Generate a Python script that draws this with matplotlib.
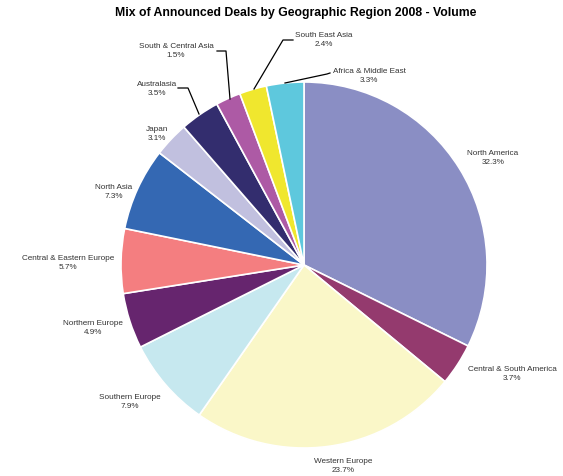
import matplotlib.pyplot as plt

plt.rcParams['font.family'] = ['Liberation Sans', 'DejaVu Sans']

# données
regions = ["North America", "Central & South America", "Western Europe",
           "Southern Europe", "Northern Europe", "Central & Eastern Europe",
           "North Asia", "Japan", "Australasia", "South & Central Asia",
           "South East Asia", "Africa & Middle East"]
# pourcentages affichés
pct_labels = ["32.3%", "3.7%", "23.7%", "7.9%", "4.9%", "5.7%",
              "7.3%", "3.1%", "3.5%", "1.5%", "2.4%", "3.3%"]
# taille des parts (la part S&C Asia est dessinée plus grande)
share = [32.3, 3.7, 23.7, 7.9, 4.9, 5.7, 7.3, 3.1, 3.5, 2.2, 2.4, 3.3]
colors = ["#8a8ec4", "#943a6e", "#faf7c8", "#c6e8ef", "#66256e", "#f47e80",
          "#3468b3", "#c1c0df", "#332d6e", "#ad5aa5", "#f0e72e", "#5ec8dd"]

# mise en page (pixels de l'image de référence)
W, H = 563, 477
cx, cy, R = 304, 266, 183
label_px = [(493, 158), (512, 374), (343, 466), (130, 402), (93, 328),
            (68, 263), (114, 192), (157, 134), (157, 89), (176, 51),
            (324, 40), (369, 76)]
# traits de rappel pour les petites parts
leaders = {
    8: [(178, 89), (188, 89), (199, 115)],
    9: [(217, 52), (226, 52), (230, 100)],
    10: [(293, 41), (283, 41), (254, 90)],
    11: [(330, 74), (327, 75), (285, 84)],
}


def px(x, y):
    return (x - cx) / R, (cy - y) / R


fig = plt.figure(figsize=(W / 100, H / 100), dpi=100)
ax = fig.add_axes([0, 0, 1, 1])
ax.pie(share, colors=colors, startangle=90, counterclock=False,
       wedgeprops=dict(edgecolor="white", linewidth=1.2))
ax.set_xlim(-cx / R, (W - cx) / R)
ax.set_ylim(-(H - cy) / R, cy / R)
ax.set_aspect("equal")
ax.axis("off")

for i, (name, p) in enumerate(zip(regions, pct_labels)):
    x, y = px(*label_px[i])
    ax.text(x, y, f"{name}\n{p}", ha="center", va="center",
            fontsize=5.9, color="#333333", linespacing=1.45)

for i, pts in leaders.items():
    xs, ys = zip(*[px(*p) for p in pts])
    ax.plot(xs, ys, color="black", lw=0.9)

tx, ty = px(296, 13)
ax.text(tx, ty, "Mix of Announced Deals by Geographic Region 2008 - Volume",
        ha="center", va="center", fontsize=8.8, fontweight="bold")

fig.savefig("out.png", dpi=100)
